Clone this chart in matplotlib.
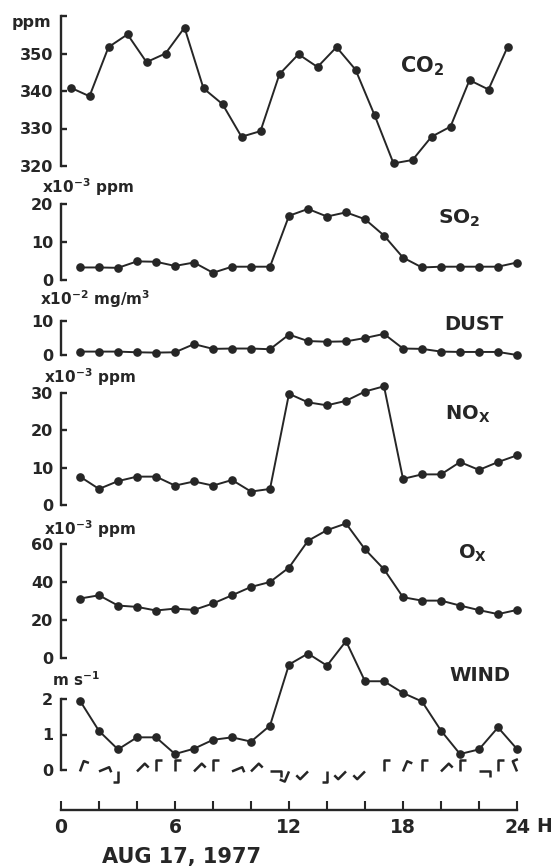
import numpy as np
import matplotlib
matplotlib.use("Agg")
import matplotlib.pyplot as plt
from matplotlib import transforms

# ── data (hourly, 1..24 h, AUG 17 1977) ───────────────────────────────────────

HOURS = np.arange(1, 25)

CO2  = [340.9, 338.6, 351.7, 355.1, 347.7, 350.0, 356.9, 340.7, 336.5, 327.8,
        329.3, 344.5, 349.8, 346.4, 351.7, 345.7, 333.6, 320.7, 321.6, 327.8,
        330.5, 342.9, 340.4, 351.7]
SO2  = [3.3, 3.3, 3.2, 4.9, 4.8, 3.7, 4.6, 1.9, 3.5, 3.5, 3.5, 16.9,
        18.7, 16.7, 17.8, 16.0, 11.7, 5.9, 3.3, 3.5, 3.5, 3.5, 3.5, 4.6]
DUST = [1.0, 1.0, 1.0, 0.8, 0.7, 0.8, 3.2, 1.8, 1.9, 1.9, 1.7, 6.0,
        4.1, 3.9, 4.0, 5.0, 6.2, 1.9, 1.8, 1.0, 0.9, 0.9, 0.9, 0.0]
NOX  = [7.6, 4.3, 6.4, 7.6, 7.6, 5.2, 6.3, 5.2, 6.7, 3.6, 4.3, 29.8,
        27.5, 26.7, 27.9, 30.4, 31.8, 7.0, 8.2, 8.2, 11.5, 9.4, 11.5, 13.3]
OX   = [31.3, 33.0, 27.6, 26.9, 25.0, 26.0, 25.3, 28.7, 33.0, 37.4, 40.0, 47.6,
        61.7, 67.3, 70.8, 57.2, 46.7, 32.0, 30.2, 30.2, 27.6, 25.2, 23.1, 25.3]
WIND = [1.95, 1.1, 0.58, 0.92, 0.92, 0.45, 0.6, 0.85, 0.92, 0.8, 1.25, 2.97,
        3.28, 2.94, 3.63, 2.5, 2.5, 2.17, 1.93, 1.11, 0.45, 0.58, 1.2, 0.59]
# wind direction (compass degrees the vane shaft points to)
WIND_DIR = [20, 67.5, 180, 45, 0, 0, 45, 0, 67.5, 45, 90, 202.5,
            225, 180, 225, 225, 0, 22.5, 0, 45, 0, 90, 0, 337.5]

X_TICKS  = list(range(0, 25, 2))
X_LABELS = ["0", "", "", "6", "", "", "12", "", "", "18", "", "", "24"]

W, H = 558, 866
INK = "#262626"
LEFT, RIGHT = 61, 517
TICK_FS = 11.5

plt.rcParams["font.family"] = ["DejaVu Sans"]
plt.rcParams["font.weight"] = "bold"
plt.rcParams["mathtext.default"] = "regular"

fig = plt.figure(figsize=(W / 100, H / 100), dpi=100)
fig.patch.set_facecolor("white")


def px_axes(top, bottom):
    ax = fig.add_axes([LEFT / W, 1 - bottom / H, (RIGHT - LEFT) / W, (bottom - top) / H])
    ax.set_facecolor("none")
    return ax


def ftext(x, y, s, size, ha="left", va="baseline"):
    fig.text(x / W, 1 - y / H, s, fontsize=size, ha=ha, va=va,
             color=INK, fontweight="bold")


# (values, top px, bottom px, ylim, ticks, tick labels, xlim)
panels = [
    (CO2,  16,  166, (320, 360), [320, 330, 340, 350, 360],
     ["320", "330", "340", "350", ""], (0.5, 24.5)),
    (SO2,  204, 280, (0, 20), [0, 10, 20], ["0", "10", "20"], (0, 24)),
    (DUST, 321, 355, (0, 10), [0, 10], ["0", "10"], (0, 24)),
    (NOX,  393, 505, (0, 30), [0, 10, 20, 30], ["0", "10", "20", "30"], (0, 24)),
    (OX,   544, 658, (0, 60), [0, 20, 40, 60], ["0", "20", "40", "60"], (0, 24)),
    (WIND, 699, 770, (0, 2), [0, 1, 2], ["0", "1", "2"], (0, 24)),
]

axes = []
for vals, top, bot, ylim, ticks, labels, xlim in panels:
    ax = px_axes(top, bot)
    ax.plot(HOURS, vals, "-o", color=INK, lw=1.4, ms=5.2, clip_on=False)
    ax.set_xlim(*xlim)
    ax.set_ylim(*ylim)
    for s in ("top", "right", "bottom"):
        ax.spines[s].set_visible(False)
    ax.spines["left"].set_bounds(*ylim)
    ax.spines["left"].set_linewidth(1.7)
    ax.spines["left"].set_color(INK)
    ax.set_yticks(ticks)
    ax.set_yticklabels(labels)
    ax.tick_params(axis="y", direction="in", length=4.5, width=1.7, pad=5.5,
                   labelsize=TICK_FS, colors=INK)
    ax.set_xticks([])
    axes.append(ax)

# time axis under the wind panel
axw = axes[-1]
axw.spines["bottom"].set_visible(True)
axw.spines["bottom"].set_position(("outward", 28.5))
axw.spines["bottom"].set_bounds(0, 24)
axw.spines["bottom"].set_linewidth(1.7)
axw.spines["bottom"].set_color(INK)
axw.set_xticks(X_TICKS)
axw.set_xticklabels(X_LABELS)
axw.tick_params(axis="x", direction="in", length=6.5, width=1.5, pad=6,
                labelsize=13.5, colors=INK)

# wind vanes along the bottom of the wind panel
SHAFT, BARB = 0.11, 0.055  # inches
for h, d in zip(HOURS, WIND_DIR):
    r = np.radians(d)
    rb = np.radians(d + 90)
    tip = (SHAFT * np.sin(r), SHAFT * np.cos(r))
    end = (tip[0] + BARB * np.sin(rb), tip[1] + BARB * np.cos(rb))
    tr = fig.dpi_scale_trans + transforms.ScaledTranslation(h, -0.04, axw.transData)
    axw.plot([0, tip[0], end[0]], [0, tip[1], end[1]], color=INK, lw=1.8,
             solid_capstyle="butt", transform=tr, clip_on=False)

# panel names
ftext(400, 72, "CO$_2$", 15)
ftext(438, 224, "SO$_2$", 14.5)
ftext(444, 330, "DUST", 14)
ftext(445, 420, "NO$_X$", 14)
ftext(458, 559, "O$_X$", 14)
ftext(449, 681, "WIND", 14)

# units
ftext(12, 27, "ppm", TICK_FS)
ftext(42, 193, "x10$^{-3}$ ppm", 11)
ftext(40, 305, "x10$^{-2}$ mg/m$^3$", 11)
ftext(44, 383, "x10$^{-3}$ ppm", 11)
ftext(44, 535, "x10$^{-3}$ ppm", 11)
ftext(52, 686, "m s$^{-1}$", 11)

ftext(536, 827, "H", 13.5, va="center")
ftext(182, 857, "AUG 17, 1977", 15, ha="center", va="center")

fig.savefig("out.png", dpi=100, facecolor="white")
